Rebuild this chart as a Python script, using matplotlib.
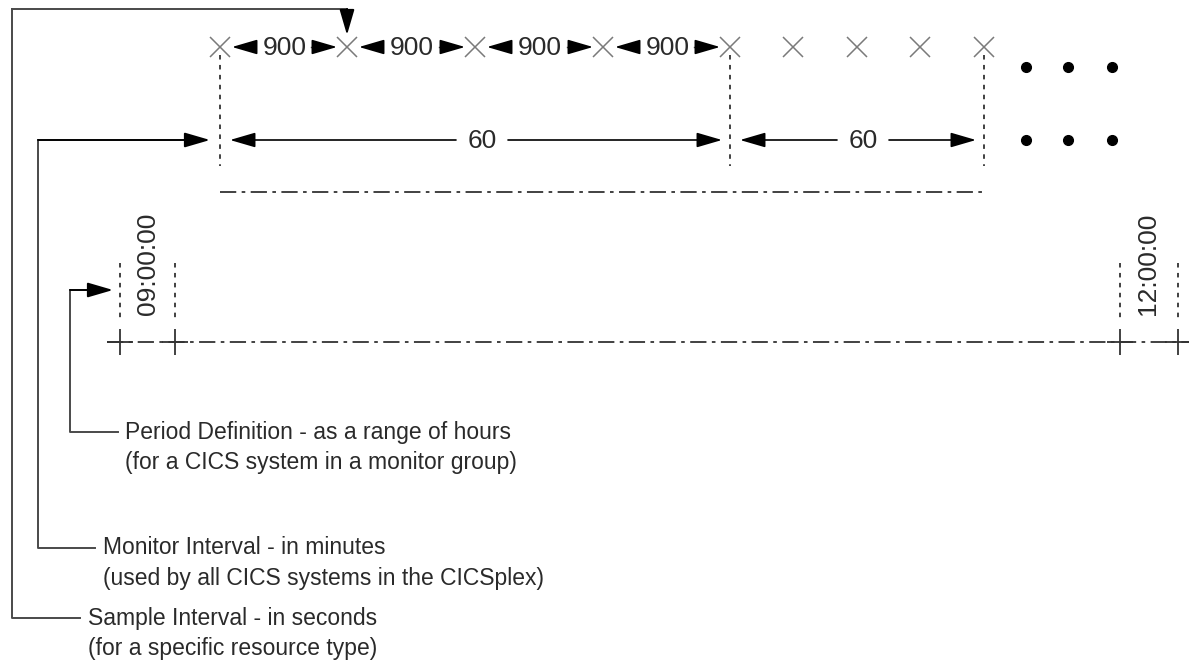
import numpy as np
import matplotlib.pyplot as plt

plt.rcParams['font.family'] = ['Liberation Sans', 'DejaVu Sans']

# Daten / Texte des Diagramms
sample_labels = ["900", "900", "900", "900"]
monitor_labels = ["60", "60"]
time_labels = ["09:00:00", "12:00:00"]
note_titles = ["Period Definition - as a range of hours",
               "Monitor Interval - in minutes",
               "Sample Interval - in seconds"]
note_details = ["(for a CICS system in a monitor group)",
                "(used by all CICS systems in the CICSplex)",
                "(for a specific resource type)"]

# Layout (Pixelkoordinaten)
x_samples = [220, 347, 475, 603, 730, 793, 857, 920, 984]
x_monitor = [220, 730, 984]
x_dots = [1026, 1068, 1112]
x_time = [120, 175, 1120, 1178]
y_sample, y_monitor, y_dashdot, y_axis = 47, 140, 192, 342

line_c = '#4a4a4a'
text_c = '#2a2a2a'
fs_note = 16.5
fs_num = 19

fig = plt.figure(figsize=(11.89, 6.68), dpi=100)
ax = fig.add_axes([0, 0, 1, 1])
ax.set_xlim(0, 1189)
ax.set_ylim(668, 0)
ax.axis('off')

head_style = '-|>,head_length=1.2,head_width=0.35'


def arrow(tip, tail, lw=1.2):
    ax.annotate('', xy=tip, xytext=tail,
                arrowprops=dict(arrowstyle=head_style, mutation_scale=13,
                                color='black', lw=lw, shrinkA=0, shrinkB=0))


# Sample-Intervalle (Kreuze)
ax.plot(x_samples, [y_sample] * len(x_samples), 'x', color='#7a7a7a',
        markersize=14, mew=1.1)
for i, lab in enumerate(sample_labels):
    a, b = x_samples[i], x_samples[i + 1]
    m = (a + b) / 2 + 1
    ax.text(m, y_sample + 1, lab, ha='center', va='center', fontsize=fs_num,
            color=text_c)
    arrow((a + 12, y_sample), (a + 34, y_sample))
    ax.plot([b - 36, b - 28], [y_sample, y_sample], color=line_c, lw=1)
    arrow((b - 10, y_sample), (b - 30, y_sample))

for row in [y_sample + 20, y_monitor]:
    ax.plot(x_dots, [row] * len(x_dots), 'o', color='black', markersize=7)

# Monitor-Intervalle
for x in x_monitor:
    ax.plot([x, x], [55, 166], color='#333333', lw=1.3, ls=(0, (2.5, 3)))
for i, lab in enumerate(monitor_labels):
    a, b = x_monitor[i], x_monitor[i + 1]
    m = (a + b) / 2 + (7 if i == 0 else 6)
    ax.text(m, y_monitor + 1, lab, ha='center', va='center', fontsize=fs_num,
            color=text_c)
    arrow((a + 10, y_monitor), (m - 26, y_monitor))
    arrow((b - 8, y_monitor), (m + 26, y_monitor))

ax.plot([x_monitor[0], x_monitor[-1]], [y_dashdot, y_dashdot], color='#333333',
        lw=1.3, ls=(0, (9, 3, 2, 3)))

# Zeitachse
ax.plot([107, 1189], [y_axis, y_axis], color='#333333', lw=1.3, ls=(0, (9, 3, 2, 3)))
ax.plot(x_time, [y_axis] * len(x_time), '+', color='#333333', markersize=19, mew=1.3)
for x in x_time:
    ax.plot([x, x], [263, 320], color='#333333', lw=1.3, ls=(0, (2.5, 3)))
for x, lab in zip([148, 1148], time_labels):
    ax.text(x, 264, lab, rotation=90, ha='center', va='center', fontsize=fs_num,
            color=text_c)

# Beschriftungen mit Verbindungslinien
brackets = [(70, 290, 113, 432, 118, 125),
            (38, 140, 210, 548, 95, 103),
            (12, 9, None, 618, 80, 88)]
for (xv, ytop, tip, ybot, xend, xtxt), t1, t2 in zip(brackets, note_titles, note_details):
    ax.plot([xv, xv, xend], [ytop, ybot, ybot], color=line_c, lw=1.4)
    if tip is not None:
        arrow((tip, ytop), (xv, ytop), lw=1.4)
    ax.text(xtxt, ybot, t1, ha='left', va='center', fontsize=fs_note, color=text_c)
    ax.text(xtxt, ybot + 31, t2, ha='left', va='center', fontsize=fs_note,
            color=text_c)

# Pfeil vom Sample-Intervall nach unten
ax.plot([12, 347], [9, 9], color=line_c, lw=1.4)
arrow((347, 35), (347, 9), lw=1.4)

fig.savefig('out.png', dpi=100)
